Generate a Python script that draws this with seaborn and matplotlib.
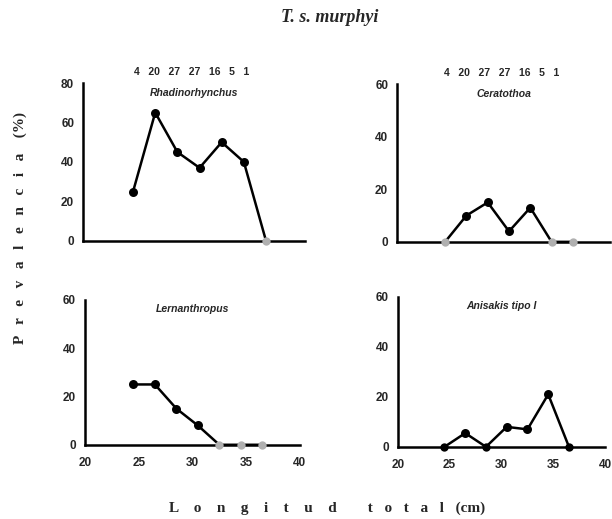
import matplotlib
matplotlib.use("Agg")
import matplotlib.pyplot as plt
import seaborn as sns
import pandas as pd

sns.set_theme(style="white")
plt.rcParams['font.family'] = ['Liberation Sans', 'DejaVu Sans']

# ---- data ----
length_cm = [24.5, 26.5, 28.5, 30.5, 32.5, 34.5, 36.5]
sample_n = [4, 20, 27, 27, 16, 5, 1]
rhadinorhynchus = [25, 65, 45, 37, 50, 40, 0]
ceratothoa = [0, 10, 15, 4, 13, 0, 0]
lernanthropus = [25, 25, 15, 8, 0, 0, 0]
anisakis = [0, 5.5, 0, 8, 7, 21, 0]

panels = [
    ("Rhadinorhynchus", rhadinorhynchus, 80, [0.136, 0.536, 0.362, 0.304], False, True, "#b0b0b0"),
    ("Ceratothoa", ceratothoa, 60, [0.649, 0.534, 0.348, 0.304], False, True, "#b0b0b0"),
    ("Lernanthropus", lernanthropus, 60, [0.139, 0.143, 0.351, 0.279], True, False, "#b0b0b0"),
    ("Anisakis tipo I", anisakis, 60, [0.650, 0.139, 0.339, 0.289], True, False, "black"),
]

fig = plt.figure(figsize=(6.12, 5.19), dpi=100)

for name, vals, ymax, rect, xlab, show_n, zcol in panels:
    ax = fig.add_axes(rect)
    df = pd.DataFrame({"x": length_cm, "y": vals})
    sns.lineplot(data=df, x="x", y="y", ax=ax, color="black", lw=1.8,
                 clip_on=False, zorder=3)
    nonzero = df[df["y"] != 0]
    zeros = df[df["y"] == 0]
    sns.scatterplot(data=nonzero, x="x", y="y", ax=ax, color="black", s=42,
                    linewidth=0, clip_on=False, zorder=4)
    sns.scatterplot(data=zeros, x="x", y="y", ax=ax, color=zcol, s=36,
                    linewidth=0, clip_on=False, zorder=4)
    ax.set_xlim(20, 40)
    ax.set_ylim(0, ymax)
    ax.set_xticks([20, 25, 30, 35, 40])
    ax.set_yticks(list(range(0, ymax + 1, 20)))
    for s in ["top", "right"]:
        ax.spines[s].set_visible(False)
    for s in ["left", "bottom"]:
        ax.spines[s].set_linewidth(1.8)
        ax.spines[s].set_color("black")
    ax.tick_params(axis="x", direction="inout", length=7, width=1.2, color="#666666",
                   labelsize=8.5, pad=5, labelbottom=xlab)
    ax.tick_params(axis="y", direction="inout", length=5, width=1.0, color="#888888",
                   labelsize=8.5, pad=4)
    for lab in ax.get_xticklabels() + ax.get_yticklabels():
        lab.set_fontweight("bold")
    ax.set_xlabel("")
    ax.set_ylabel("")
    ax.text(0.5, 0.97, name, transform=ax.transAxes, ha="center", va="top",
            fontsize=7.5, style="italic", fontweight="bold")
    if show_n:
        ax.text(0.49, 1.04, "   ".join(str(n) for n in sample_n), transform=ax.transAxes,
                ha="center", va="bottom", fontsize=7.5, fontweight="bold")

serif = ["Liberation Serif", "DejaVu Serif"]
fig.text(0.539, 0.966, "T. s. murphyi", ha="center", va="center", fontsize=13,
         fontweight="bold", style="italic", family=serif)
fig.text(0.535, 0.021,
         "L    o    n    g    i    t    u    d        t   o   t   a   l   (cm)",
         ha="center", va="center", fontsize=11, fontweight="bold", family=serif)
fig.text(0.033, 0.56,
         "P   r   e   v   a   l   e   n   c   i   a    (%)",
         ha="center", va="center", rotation=90, fontsize=11, fontweight="bold",
         family=serif)

fig.savefig("out.png", dpi=100, facecolor="white")
